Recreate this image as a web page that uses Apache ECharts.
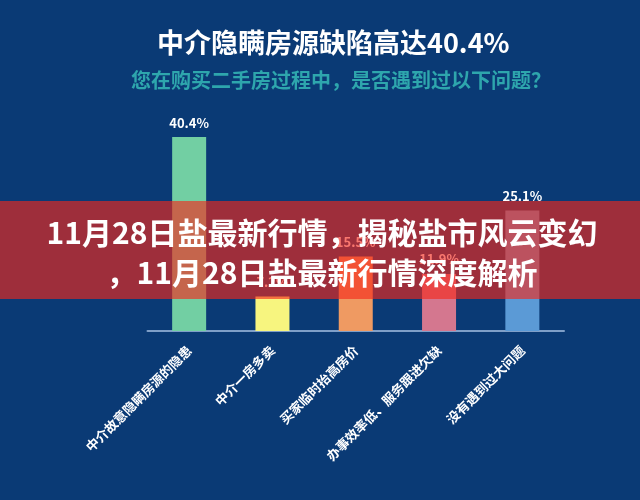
<!DOCTYPE html>
<html>
<head>
<meta charset="utf-8">
<script src="https://cdn.jsdelivr.net/npm/echarts@6/dist/echarts.min.js"></script>
<style>
html,body{margin:0;padding:0;background:#0a3a75;}
#chart{width:640px;height:500px;}
</style>
</head>
<body>
<div id="chart"></div>
<script>
var titleText = '中介隐瞒房源缺陷高达40.4%';
var subtitleText = '您在购买二手房过程中，是否遇到过以下问题？';
var bannerText = '11月28日盐最新行情，揭秘盐市风云变幻\n，11月28日盐最新行情深度解析';
var categories = ['中介故意隐瞒房源的隐患', '中介一房多卖', '买家临时抬高房价', '办事效率低、服务跟进欠缺', '没有遇到过大问题'];
var values = [40.4, 7.2, 15.5, 11.9, 25.1];
var barColors = ['#72cfa3', '#f7f57f', '#ef9a62', '#d4778f', '#5b9ad6'];

var font = '"Noto Sans CJK SC", "Noto Sans", sans-serif';
var chart = echarts.init(document.getElementById('chart'));
chart.setOption({
  backgroundColor: '#0a3a75',
  title: [
    {
      text: titleText, left: 157, top: 29.5, padding: 0,
      textStyle: { color: '#ffffff', fontSize: 27, lineHeight: 27, fontWeight: 'bold', fontFamily: font }
    },
    {
      text: subtitleText, left: 131, top: 70, padding: 0,
      textStyle: { color: '#2ea6ad', fontSize: 20, lineHeight: 20, fontWeight: 'bold', fontFamily: font }
    }
  ],
  grid: { left: 147.5, right: 76, top: 91, bottom: 169 },
  xAxis: {
    type: 'category',
    data: categories,
    axisLine: { show: true, lineStyle: { color: '#7f9fc8', width: 2 } },
    axisTick: { show: false },
    axisLabel: {
      interval: 0, rotate: 45, margin: 17,
      color: '#ffffff', fontSize: 13, fontWeight: 'bold', fontFamily: font
    }
  },
  yAxis: { type: 'value', min: 0, max: 50, show: false, splitLine: { show: false } },
  series: [{
    type: 'bar',
    barWidth: 34,
    data: values.map(function (v, i) { return { value: v, itemStyle: { color: barColors[i] } }; }),
    label: {
      show: true, position: 'top', distance: 8,
      color: '#ffffff', fontSize: 13, fontWeight: 'bold', fontFamily: font,
      formatter: '{c}%'
    }
  }],
  graphic: [
    {
      type: 'rect', z: 100,
      shape: { x: 0, y: 201, width: 640, height: 98 },
      style: { fill: 'rgba(245,39,25,0.63)' }
    },
    {
      type: 'text', z: 101, x: 322, y: 253,
      style: {
        text: bannerText,
        fill: '#ffffff',
        font: 'bold 30px "Noto Sans CJK SC", sans-serif',
        lineHeight: 40,
        textAlign: 'center',
        textVerticalAlign: 'middle'
      }
    }
  ]
});
</script>
</body>
</html>
